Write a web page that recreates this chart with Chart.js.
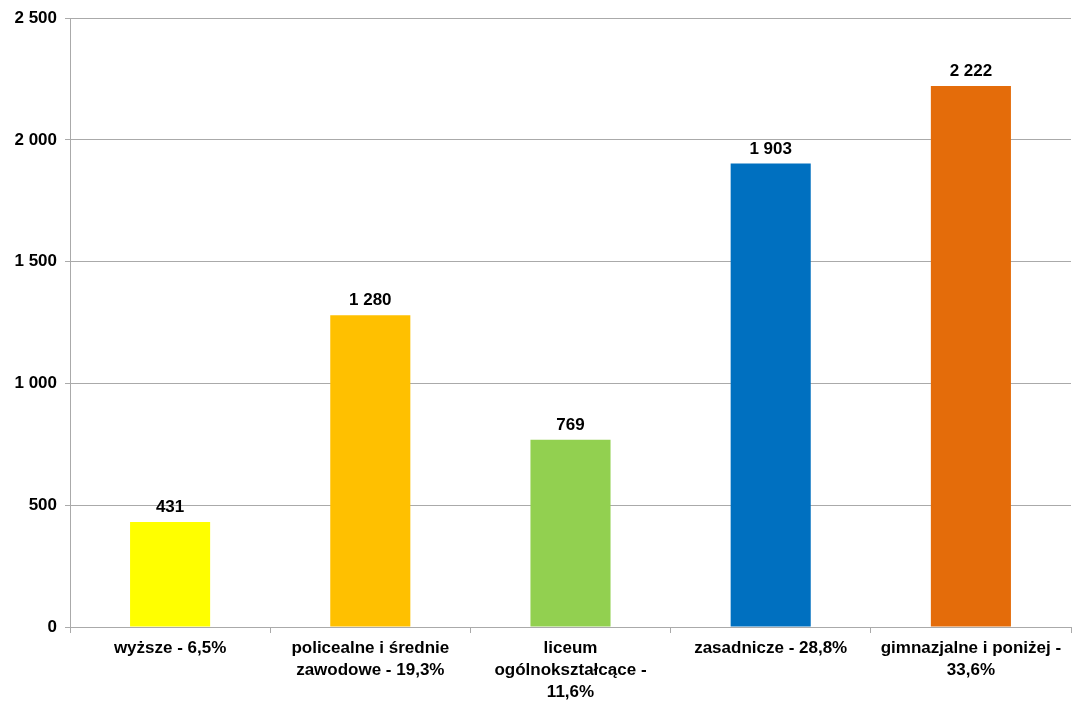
<!DOCTYPE html>
<html>
<head>
<meta charset="utf-8">
<script src="https://cdn.jsdelivr.net/npm/chart.js@4/dist/chart.umd.min.js"></script>
<style>
  html, body { margin: 0; padding: 0; background: #fff; }
  #wrap { width: 1088px; height: 708px; }
</style>
</head>
<body>
<div id="wrap"><canvas id="eduChart"></canvas></div>
<script>
// categories (wrapped like in the original) and values
const categories = [
    ['wyższe - 6,5%'],
    ['policealne i średnie', 'zawodowe - 19,3%'],
    ['liceum', 'ogólnokształcące -', '11,6%'],
    ['zasadnicze - 28,8%'],
    ['gimnazjalne i poniżej -', '33,6%']
];
const counts = [431, 1280, 769, 1903, 2222];
const barColors = ['#FFFF00', '#FFC000', '#92D050', '#0070C0', '#E46C0A'];
const yTicks = [0, 500, 1000, 1500, 2000, 2500];

const fmt = v => String(v).replace(/\B(?=(\d{3})+(?!\d))/g, ' ');
const FONT = '"Liberation Sans", Arial, sans-serif';

// labels above the bars
const valueLabels = {
    id: 'valueLabels',
    afterDatasetsDraw(chart) {
        const ctx = chart.ctx;
        const meta = chart.getDatasetMeta(0);
        ctx.save();
        ctx.font = 'bold 17px ' + FONT;
        ctx.fillStyle = '#000';
        ctx.textAlign = 'center';
        ctx.textBaseline = 'bottom';
        meta.data.forEach((bar, i) => {
            ctx.fillText(fmt(counts[i]), bar.x, bar.y - 6);
        });
        ctx.restore();
    }
};

const ctx = document.getElementById('eduChart').getContext('2d');
const eduChart = new Chart(ctx, {
    type: 'bar',
    data: {
        labels: categories,
        datasets: [{
            data: counts,
            backgroundColor: barColors,
            barPercentage: 0.4,
            categoryPercentage: 1.0
        }]
    },
    plugins: [valueLabels],
    options: {
        responsive: true,
        maintainAspectRatio: false,
        animation: false,
        layout: { padding: { top: 10, right: 17, bottom: 0, left: 0 } },
        plugins: {
            legend: { display: false },
            tooltip: { enabled: false }
        },
        scales: {
            x: {
                grid: {
                    offset: true,
                    drawOnChartArea: false,
                    drawTicks: true,
                    tickLength: 6,
                    color: '#aaaaaa'
                },
                border: { color: '#aaaaaa', width: 1 },
                ticks: {
                    color: '#000',
                    font: { family: FONT, size: 17, weight: 'bold', lineHeight: 1.3 },
                    maxRotation: 0,
                    autoSkip: false,
                    padding: 4
                },
                afterFit(scale) { scale.height = 81; }
            },
            y: {
                min: 0,
                max: 2500,
                afterBuildTicks(scale) { scale.ticks = yTicks.map(v => ({ value: v })); },
                grid: {
                    color: '#aaaaaa',
                    drawTicks: true,
                    tickLength: 5
                },
                border: { color: '#aaaaaa', width: 1 },
                ticks: {
                    color: '#000',
                    font: { family: FONT, size: 17, weight: 'bold' },
                    padding: 8,
                    callback: v => fmt(v)
                },
                afterFit(scale) { scale.width = 70; }
            }
        }
    }
});
</script>
</body>
</html>
